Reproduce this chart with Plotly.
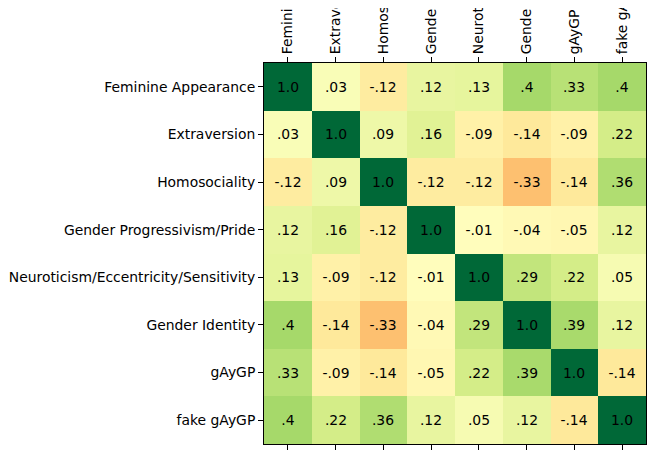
import plotly.graph_objects as go

labels = ["Feminine Appearance", "Extraversion", "Homosociality",
          "Gender Progressivism/Pride", "Neuroticism/Eccentricity/Sensitivity",
          "Gender Identity", "gAyGP", "fake gAyGP"]

corr = [
    [1.0, .03, -.12, .12, .13, .4, .33, .4],
    [.03, 1.0, .09, .16, -.09, -.14, -.09, .22],
    [-.12, .09, 1.0, -.12, -.12, -.33, -.14, .36],
    [.12, .16, -.12, 1.0, -.01, -.04, -.05, .12],
    [.13, -.09, -.12, -.01, 1.0, .29, .22, .05],
    [.4, -.14, -.33, -.04, .29, 1.0, .39, .12],
    [.33, -.09, -.14, -.05, .22, .39, 1.0, -.14],
    [.4, .22, .36, .12, .05, .12, -.14, 1.0],
]

cell_text = [
    ["1.0", ".03", "-.12", ".12", ".13", ".4", ".33", ".4"],
    [".03", "1.0", ".09", ".16", "-.09", "-.14", "-.09", ".22"],
    ["-.12", ".09", "1.0", "-.12", "-.12", "-.33", "-.14", ".36"],
    [".12", ".16", "-.12", "1.0", "-.01", "-.04", "-.05", ".12"],
    [".13", "-.09", "-.12", "-.01", "1.0", ".29", ".22", ".05"],
    [".4", "-.14", "-.33", "-.04", ".29", "1.0", ".39", ".12"],
    [".33", "-.09", "-.14", "-.05", ".22", ".39", "1.0", "-.14"],
    [".4", ".22", ".36", ".12", ".05", ".12", "-.14", "1.0"],
]

rdylgn = ["#a50026", "#d73027", "#f46d43", "#fdae61", "#fee08b", "#ffffbf",
          "#d9ef8b", "#a6d96a", "#66bd63", "#1a9850", "#006837"]
colorscale = [[i / 10, c] for i, c in enumerate(rdylgn)]

idx = list(range(len(labels)))

FS = 13.9

fig = go.Figure()
fig.add_trace(go.Heatmap(
    z=corr, x=idx, y=idx, text=cell_text, texttemplate="%{text}",
    textfont=dict(family="DejaVu Sans", size=FS, color="black"),
    colorscale=colorscale, zmin=-1, zmax=1, showscale=False,
    hoverinfo="skip",
))
fig.add_trace(go.Scatter(x=[0], y=[0], xaxis="x2", yaxis="y",
                         mode="markers", marker=dict(opacity=0),
                         showlegend=False, hoverinfo="skip"))

tick_common = dict(ticks="outside", ticklen=4.9, tickwidth=1.1, tickcolor="black",
                   showgrid=False, zeroline=False, showline=True, linecolor="black",
                   linewidth=1.1, mirror=True,
                   tickfont=dict(family="DejaVu Sans", size=FS, color="black"))

fig.update_layout(
    width=656, height=454,
    margin=dict(l=256, r=18, t=55, b=18),
    paper_bgcolor="white", plot_bgcolor="white",
    font=dict(family="DejaVu Sans", size=FS, color="black"),
    xaxis=dict(side="top", tickmode="array", tickvals=idx, ticktext=labels,
               tickangle=-90, range=[-0.5, 7.5], automargin=False, **tick_common),
    xaxis2=dict(side="bottom", overlaying="x", anchor="y", tickmode="array",
                tickvals=idx, showticklabels=False, range=[-0.5, 7.5],
                automargin=False, **tick_common),
    yaxis=dict(tickmode="array", tickvals=idx, ticktext=labels,
               range=[7.5, -0.5], automargin=False, **tick_common),
)

fig.write_html("out.html")
